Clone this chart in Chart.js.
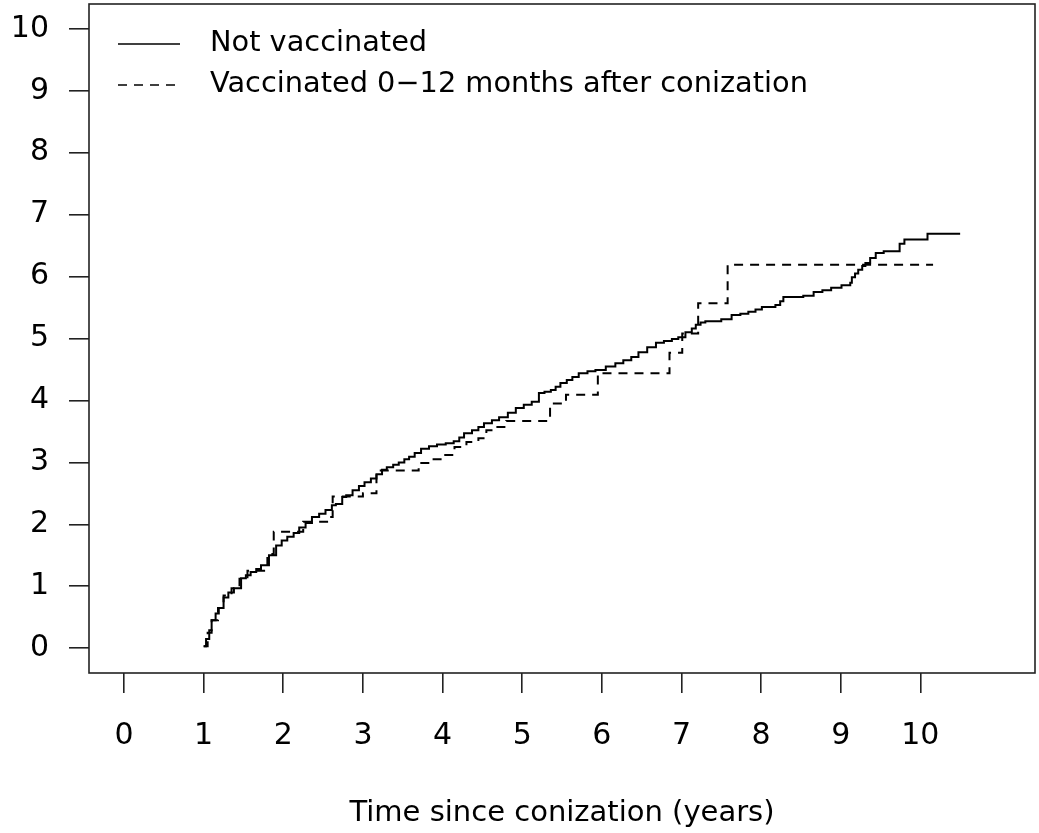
<!DOCTYPE html>
<html>
<head>
<meta charset="utf-8">
<script src="https://cdn.jsdelivr.net/npm/chart.js@4/dist/chart.umd.min.js"></script>
<style>
  html, body { margin: 0; padding: 0; background: #fff; }
  #wrap { width: 1039px; height: 833px; position: relative; }
</style>
</head>
<body>
<div id="wrap"><canvas id="chart"></canvas></div>
<script>
// tick values on both axes
const xTicks = [0, 1, 2, 3, 4, 5, 6, 7, 8, 9, 10];
const yTicks = [0, 1, 2, 3, 4, 5, 6, 7, 8, 9, 10];

// Not vaccinated (step times / cumulative incidence)
const notVaccTime = [1.00, 1.03, 1.07, 1.10, 1.15, 1.19, 1.25, 1.31, 1.38, 1.47, 1.53, 1.59, 1.66, 1.72, 1.82, 1.91, 1.98,
  2.05, 2.13, 2.20, 2.28, 2.36, 2.45, 2.53, 2.61, 2.66, 2.74, 2.79, 2.87, 2.95, 3.02, 3.10, 3.17, 3.24, 3.30, 3.38, 3.45,
  3.52, 3.58, 3.65, 3.73, 3.83, 3.93, 4.04, 4.14, 4.21, 4.27, 4.37, 4.45, 4.52, 4.62, 4.71, 4.82, 4.92, 5.02, 5.12, 5.21,
  5.28, 5.36, 5.42, 5.48, 5.56, 5.63, 5.71, 5.82, 5.92, 6.05, 6.17, 6.27, 6.37, 6.46, 6.57, 6.68, 6.78, 6.88, 6.96, 7.05,
  7.13, 7.18, 7.24, 7.30, 7.50, 7.63, 7.74, 7.84, 7.93, 8.01, 8.18, 8.24, 8.28, 8.53, 8.66, 8.77, 8.88, 9.01, 9.12, 9.14,
  9.18, 9.22, 9.27, 9.31, 9.37, 9.44, 9.54, 9.74, 9.80, 10.09, 10.50];
const notVaccRisk = [0.03, 0.15, 0.29, 0.45, 0.56, 0.65, 0.82, 0.90, 0.97, 1.13, 1.18, 1.23, 1.28, 1.34, 1.50, 1.66, 1.74,
  1.80, 1.86, 1.95, 2.02, 2.12, 2.17, 2.23, 2.31, 2.33, 2.44, 2.47, 2.55, 2.62, 2.68, 2.74, 2.81, 2.88, 2.92, 2.96, 3.00,
  3.05, 3.09, 3.15, 3.22, 3.26, 3.29, 3.31, 3.34, 3.40, 3.47, 3.52, 3.57, 3.63, 3.68, 3.73, 3.80, 3.88, 3.93, 3.98, 4.12,
  4.14, 4.17, 4.22, 4.28, 4.33, 4.38, 4.44, 4.47, 4.49, 4.55, 4.60, 4.65, 4.70, 4.78, 4.86, 4.93, 4.96, 4.99, 5.02, 5.10,
  5.16, 5.22, 5.26, 5.28, 5.31, 5.38, 5.40, 5.43, 5.47, 5.51, 5.54, 5.60, 5.67, 5.69, 5.75, 5.78, 5.82, 5.86, 5.90, 5.99,
  6.05, 6.11, 6.17, 6.22, 6.30, 6.38, 6.41, 6.53, 6.60, 6.69, 6.69];

// Vaccinated 0-12 months after conization
const vaccTime = [1.00, 1.05, 1.10, 1.18, 1.25, 1.35, 1.45, 1.55, 1.80, 1.88, 2.25, 2.55, 2.62, 3.00, 3.17, 3.70, 3.85,
  4.00, 4.15, 4.30, 4.45, 4.55, 4.65, 4.80, 5.35, 5.55, 5.95, 6.85, 7.01, 7.21, 7.58, 10.16];
const vaccRisk = [0.03, 0.25, 0.45, 0.65, 0.85, 0.97, 1.12, 1.25, 1.52, 1.88, 2.04, 2.12, 2.45, 2.50, 2.87, 2.99, 3.05,
  3.12, 3.25, 3.33, 3.39, 3.52, 3.57, 3.67, 3.95, 4.09, 4.44, 4.77, 5.08, 5.57, 6.19, 6.19];

const FONT = 'DejaVu Sans';

const toPoints = (xs, ys) => xs.map((x, i) => ({ x: x, y: ys[i] }));

// R-style full box around the plot region
const boxPlugin = {
    id: 'box',
    afterDatasetsDraw(chart) {
        const a = chart.chartArea;
        const ctx = chart.ctx;
        ctx.save();
        ctx.strokeStyle = '#222';
        ctx.lineWidth = 1.6;
        ctx.strokeRect(a.left, a.top, a.right - a.left, a.bottom - a.top);
        ctx.restore();
    }
};

// legend drawn inside the box, top-left
const legendPlugin = {
    id: 'insideLegend',
    afterDraw(chart) {
        const a = chart.chartArea;
        const ctx = chart.ctx;
        ctx.save();
        chart.data.datasets.forEach((ds, i) => {
            const y = a.top + 40 + i * 41;
            ctx.beginPath();
            ctx.setLineDash(ds.borderDash || []);
            ctx.strokeStyle = ds.borderColor;
            ctx.lineWidth = 1.6;
            ctx.moveTo(a.left + 29, y);
            ctx.lineTo(a.left + 91, y);
            ctx.stroke();
            ctx.setLineDash([]);
            ctx.fillStyle = '#000';
            ctx.font = '28.8px "' + FONT + '"';
            ctx.textBaseline = 'middle';
            ctx.textAlign = 'left';
            ctx.fillText(ds.label, a.left + 121, y);
        });
        ctx.restore();
    }
};

// drop the label overhang padding so the box fills the canvas like base R
const noPad = s => { s.paddingTop = 0; s.paddingBottom = 0; s.paddingLeft = 0; s.paddingRight = 0; };

new Chart(document.getElementById('chart'), {
    type: 'line',
    data: {
        datasets: [{
            label: 'Not vaccinated',
            data: toPoints(notVaccTime, notVaccRisk),
            borderColor: '#000',
            borderWidth: 2,
            stepped: true,
            pointRadius: 0,
            fill: false
        }, {
            label: 'Vaccinated 0\u221212 months after conization',
            data: toPoints(vaccTime, vaccRisk),
            borderColor: '#000',
            borderWidth: 2,
            borderDash: [9, 7],
            stepped: true,
            pointRadius: 0,
            fill: false
        }]
    },
    options: {
        responsive: true,
        maintainAspectRatio: false,
        animation: false,
        layout: { padding: { top: 4, right: 4, left: 0, bottom: 0 } },
        plugins: {
            legend: { display: false },
            tooltip: { enabled: false }
        },
        scales: {
            x: {
                type: 'linear',
                min: -0.44,
                max: 11.44,
                afterBuildTicks: s => { s.ticks = xTicks.map(v => ({ value: v })); },
                afterFit: s => { s.height = 160; noPad(s); },
                border: { display: false },
                grid: { drawOnChartArea: false, drawTicks: true, tickLength: 20, color: '#222', lineWidth: 1.6 },
                ticks: {
                    autoSkip: false,
                    maxRotation: 0,
                    padding: 25,
                    color: '#000',
                    font: { family: FONT, size: 30 }
                },
                title: {
                    display: true,
                    text: 'Time since conization (years)',
                    color: '#000',
                    font: { family: FONT, size: 29 },
                    padding: { top: 0, bottom: 2 }
                }
            },
            y: {
                type: 'linear',
                min: -0.4,
                max: 10.4,
                afterBuildTicks: s => { s.ticks = yTicks.map(v => ({ value: v })); },
                afterFit: s => { s.width = 89; noPad(s); },
                border: { display: false },
                grid: { drawOnChartArea: false, drawTicks: true, tickLength: 20, color: '#222', lineWidth: 1.6 },
                ticks: {
                    autoSkip: false,
                    padding: 20,
                    color: '#000',
                    font: { family: FONT, size: 30 }
                }
            }
        }
    },
    plugins: [boxPlugin, legendPlugin]
});
</script>
</body>
</html>
